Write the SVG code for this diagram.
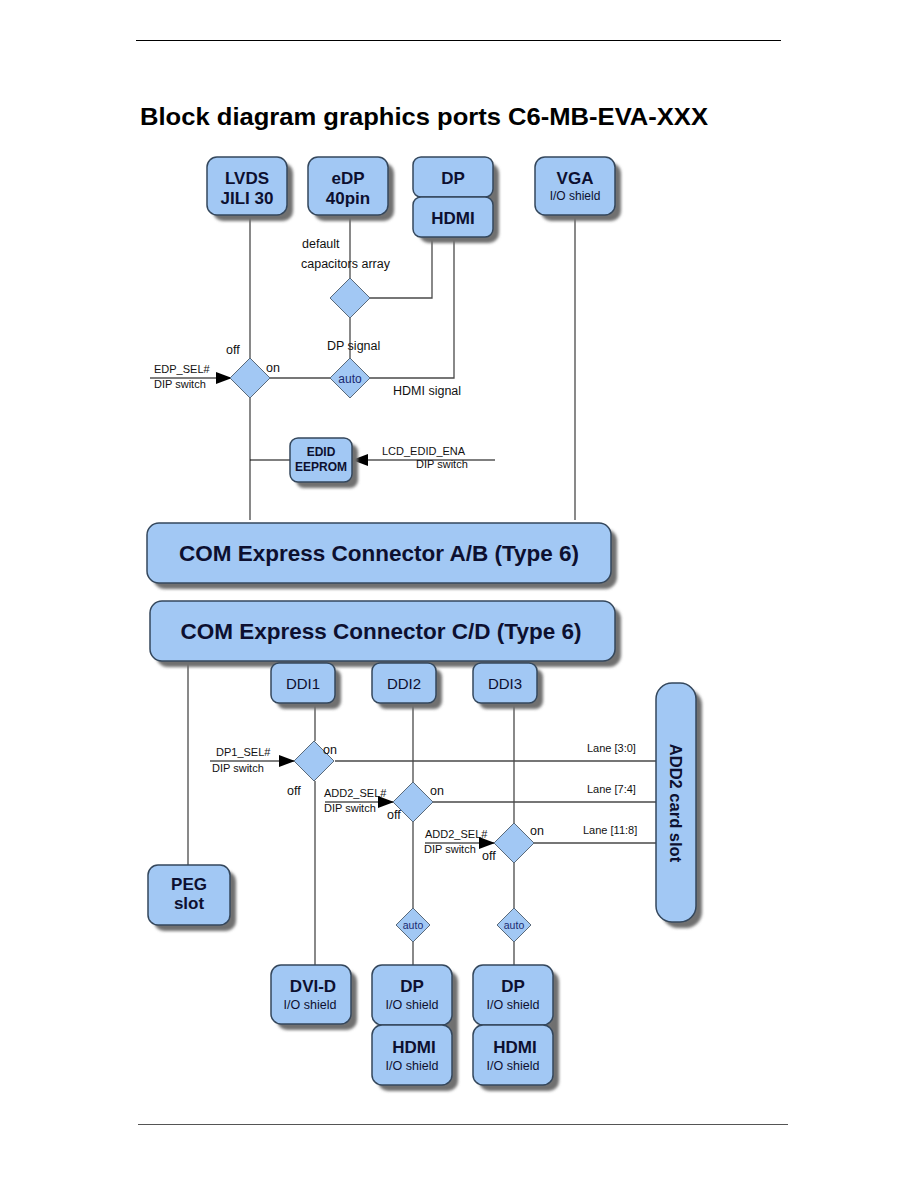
<svg xmlns="http://www.w3.org/2000/svg" width="918" height="1188" viewBox="0 0 918 1188">
<defs>
<style>
.box{fill:#a2c8f4;stroke:#34475c;stroke-width:1.5}
.sh{fill:#707070;filter:url(#bl)}
.dia{fill:#a2c8f4;stroke:#5a6a7a;stroke-width:1}
.ln{stroke:#4a4a4a;stroke-width:1.3;fill:none}
.ar{stroke:#000;stroke-width:1.2;fill:none}
.t{font-family:"Liberation Sans",Arial,sans-serif;fill:#0d1030}
.b{font-weight:bold}
.s{font-family:"Liberation Sans",Arial,sans-serif;fill:#111;font-size:11px}
.m{font-family:"Liberation Sans",Arial,sans-serif;fill:#111;font-size:12.5px}
</style>
<filter id="bl" x="-10%" y="-10%" width="130%" height="130%"><feGaussianBlur stdDeviation="1.5"/></filter>
<marker id="ah" markerWidth="16" markerHeight="12" refX="15" refY="6" orient="auto" markerUnits="userSpaceOnUse"><path d="M0,0 L16,6 L0,12 Z" fill="#000"/></marker>
</defs>
<rect width="918" height="1188" fill="#fff"/>
<line x1="136" y1="40.5" x2="781" y2="40.5" stroke="#000" stroke-width="1"/>
<line x1="138" y1="1124.5" x2="788" y2="1124.5" stroke="#555" stroke-width="1.2"/>
<text x="140" y="125" class="t b" style="font-size:24px;fill:#000" textLength="568" lengthAdjust="spacingAndGlyphs">Block diagram graphics ports C6-MB-EVA-XXX</text>

<g id="connectors">
<path class="ln" d="M250,215 V358 M250,398 V520"/>
<path class="ln" d="M350,215 V278 M350,318 V358"/>
<path class="ln" d="M432,237 V298 H370"/>
<path class="ln" d="M454,237 V378 H370"/>
<path class="ln" d="M270,378 H330"/>
<path class="ln" d="M575,215 V520"/>
<path class="ar" d="M250,460 H290"/>
<path class="ar" d="M495,460 H353" marker-end="url(#ah)"/>
<path class="ar" d="M150,378 H231" marker-end="url(#ah)"/>
<path class="ln" d="M188,661 V865"/>
<path class="ln" d="M315,703 V741 M315,781 V965"/>
<path class="ln" d="M413,703 V782 M413,822 V908 M413,942 V965"/>
<path class="ln" d="M514,703 V823 M514,863 V908 M514,942 V965"/>
<path class="ln" d="M335,761 H656 M433,802 H656 M534,843 H656"/>
<path class="ar" d="M210,761 H294" marker-end="url(#ah)"/>
<path class="ar" d="M325,802 H393" marker-end="url(#ah)"/>
<path class="ar" d="M425,843 H494" marker-end="url(#ah)"/>
</g>

<g id="lvds"><rect class="sh" x="213" y="163" width="80" height="58" rx="10"/><rect class="box" x="207" y="157" width="80" height="58" rx="10"/>
<text class="t b" x="247" y="184" text-anchor="middle" font-size="17">LVDS</text><text class="t b" x="247" y="204" text-anchor="middle" font-size="17">JILI 30</text></g>
<g id="edp"><rect class="sh" x="314" y="163" width="80" height="58" rx="10"/><rect class="box" x="308" y="157" width="80" height="58" rx="10"/>
<text class="t b" x="348" y="184" text-anchor="middle" font-size="17">eDP</text><text class="t b" x="348" y="204" text-anchor="middle" font-size="17">40pin</text></g>
<g id="dp-hdmi-top"><rect class="sh" x="419" y="163" width="80" height="80" rx="10"/>
<rect class="box" x="413" y="157" width="80" height="40" rx="8"/><rect class="box" x="413" y="197" width="80" height="40" rx="8"/>
<text class="t b" x="453" y="184" text-anchor="middle" font-size="17">DP</text><text class="t b" x="453" y="224" text-anchor="middle" font-size="17">HDMI</text></g>
<g id="vga"><rect class="sh" x="541" y="163" width="80" height="58" rx="10"/><rect class="box" x="535" y="157" width="80" height="58" rx="10"/>
<text class="t b" x="575" y="184" text-anchor="middle" font-size="17">VGA</text><text class="t" x="575" y="200" text-anchor="middle" font-size="12">I/O shield</text></g>

<g id="sw-cap"><polygon class="dia" points="350,278 370,298 350,318 330,298"/></g>
<g id="sw-auto1"><polygon class="dia" points="350,358 370,378 350,398 330,378"/><text class="t" x="350" y="383" text-anchor="middle" font-size="12" style="fill:#1a2a70">auto</text></g>
<g id="sw-edp"><polygon class="dia" points="250,358 270,378 250,398 230,378"/></g>
<text class="m" x="302" y="248">default</text>
<text class="m" x="301" y="268">capacitors array</text>
<text class="m" x="327" y="350">DP signal</text>
<text class="m" x="393" y="395">HDMI signal</text>
<text class="m" x="226" y="354">off</text>
<text class="m" x="266" y="372">on</text>
<text class="s" x="154" y="373">EDP_SEL#</text>
<text class="s" x="154" y="388">DIP switch</text>

<g id="edid"><rect class="sh" x="296" y="444" width="62" height="44" rx="8"/><rect class="box" x="290" y="438" width="62" height="44" rx="8"/>
<text class="t b" x="321" y="456" text-anchor="middle" font-size="12">EDID</text><text class="t b" x="321" y="471" text-anchor="middle" font-size="12">EEPROM</text></g>
<text class="s" x="382" y="455">LCD_EDID_ENA</text>
<text class="s" x="416" y="468">DIP switch</text>

<g id="com-ab"><rect class="sh" x="153" y="529" width="464" height="60" rx="12"/><rect class="box" x="147" y="523" width="464" height="60" rx="12"/>
<text class="t b" x="379" y="561" text-anchor="middle" font-size="22.5">COM Express Connector A/B (Type 6)</text></g>
<g id="com-cd"><rect class="sh" x="156" y="607" width="465" height="60" rx="12"/><rect class="box" x="150" y="601" width="465" height="60" rx="12"/>
<text class="t b" x="381" y="639" text-anchor="middle" font-size="22.5">COM Express Connector C/D (Type 6)</text></g>

<g id="ddi1"><rect class="sh" x="277" y="669" width="64" height="40" rx="8"/><rect class="box" x="271" y="663" width="64" height="40" rx="8"/><text class="t" x="303" y="689" text-anchor="middle" font-size="15">DDI1</text></g>
<g id="ddi2"><rect class="sh" x="378" y="669" width="64" height="40" rx="8"/><rect class="box" x="372" y="663" width="64" height="40" rx="8"/><text class="t" x="404" y="689" text-anchor="middle" font-size="15">DDI2</text></g>
<g id="ddi3"><rect class="sh" x="479" y="669" width="64" height="40" rx="8"/><rect class="box" x="473" y="663" width="64" height="40" rx="8"/><text class="t" x="505" y="689" text-anchor="middle" font-size="15">DDI3</text></g>

<g id="add2"><rect class="sh" x="662" y="689" width="40" height="239" rx="16"/><rect class="box" x="656" y="683" width="40" height="239" rx="16"/>
<text class="t b" transform="translate(670,803) rotate(90)" text-anchor="middle" font-size="16.5">ADD2 card slot</text></g>

<g id="sw-dp1"><polygon class="dia" points="314,741 334,761 314,781 294,761"/></g>
<g id="sw-add2a"><polygon class="dia" points="413,782 433,802 413,822 393,802"/></g>
<g id="sw-add2b"><polygon class="dia" points="514,823 534,843 514,863 494,843"/></g>
<text class="s" x="216" y="756">DP1_SEL#</text>
<text class="s" x="212" y="772">DIP switch</text>
<text class="m" x="323" y="754">on</text>
<text class="m" x="287" y="795">off</text>
<text class="s" x="587" y="752">Lane [3:0]</text>
<text class="s" x="324" y="797">ADD2_SEL#</text>
<text class="s" x="324" y="812">DIP switch</text>
<text class="m" x="430" y="795">on</text>
<text class="m" x="387" y="819">off</text>
<text class="s" x="587" y="793">Lane [7:4]</text>
<text class="s" x="425" y="838">ADD2_SEL#</text>
<text class="s" x="424" y="853">DIP switch</text>
<text class="m" x="530" y="835">on</text>
<text class="m" x="482" y="860">off</text>
<text class="s" x="583" y="834">Lane [11:8]</text>

<g id="auto2"><polygon class="dia" points="413,908 430,925 413,942 396,925"/><text class="t" x="413" y="929" text-anchor="middle" font-size="10.5" style="fill:#1a2a70">auto</text></g>
<g id="auto3"><polygon class="dia" points="514,908 531,925 514,942 497,925"/><text class="t" x="514" y="929" text-anchor="middle" font-size="10.5" style="fill:#1a2a70">auto</text></g>

<g id="peg"><rect class="sh" x="154" y="871" width="82" height="60" rx="10"/><rect class="box" x="148" y="865" width="82" height="60" rx="10"/>
<text class="t b" x="189" y="890" text-anchor="middle" font-size="17">PEG</text><text class="t b" x="189" y="909" text-anchor="middle" font-size="17">slot</text></g>

<g id="dvid"><rect class="sh" x="277" y="971" width="80" height="59" rx="10"/><rect class="box" x="271" y="965" width="80" height="59" rx="10"/>
<text class="t b" x="313" y="992" text-anchor="middle" font-size="17">DVI-D</text><text class="t" x="310" y="1009" text-anchor="middle" font-size="12.5">I/O shield</text></g>
<g id="dp-hdmi-2"><rect class="sh" x="378" y="971" width="80" height="120" rx="10"/>
<rect class="box" x="372" y="965" width="80" height="60" rx="10"/><rect class="box" x="372" y="1025" width="80" height="60" rx="10"/>
<text class="t b" x="412" y="992" text-anchor="middle" font-size="17">DP</text><text class="t" x="412" y="1009" text-anchor="middle" font-size="12.5">I/O shield</text>
<text class="t b" x="414" y="1053" text-anchor="middle" font-size="17">HDMI</text><text class="t" x="412" y="1070" text-anchor="middle" font-size="12.5">I/O shield</text></g>
<g id="dp-hdmi-3"><rect class="sh" x="479" y="971" width="80" height="120" rx="10"/>
<rect class="box" x="473" y="965" width="80" height="60" rx="10"/><rect class="box" x="473" y="1025" width="80" height="60" rx="10"/>
<text class="t b" x="513" y="992" text-anchor="middle" font-size="17">DP</text><text class="t" x="513" y="1009" text-anchor="middle" font-size="12.5">I/O shield</text>
<text class="t b" x="515" y="1053" text-anchor="middle" font-size="17">HDMI</text><text class="t" x="513" y="1070" text-anchor="middle" font-size="12.5">I/O shield</text></g>
</svg>
